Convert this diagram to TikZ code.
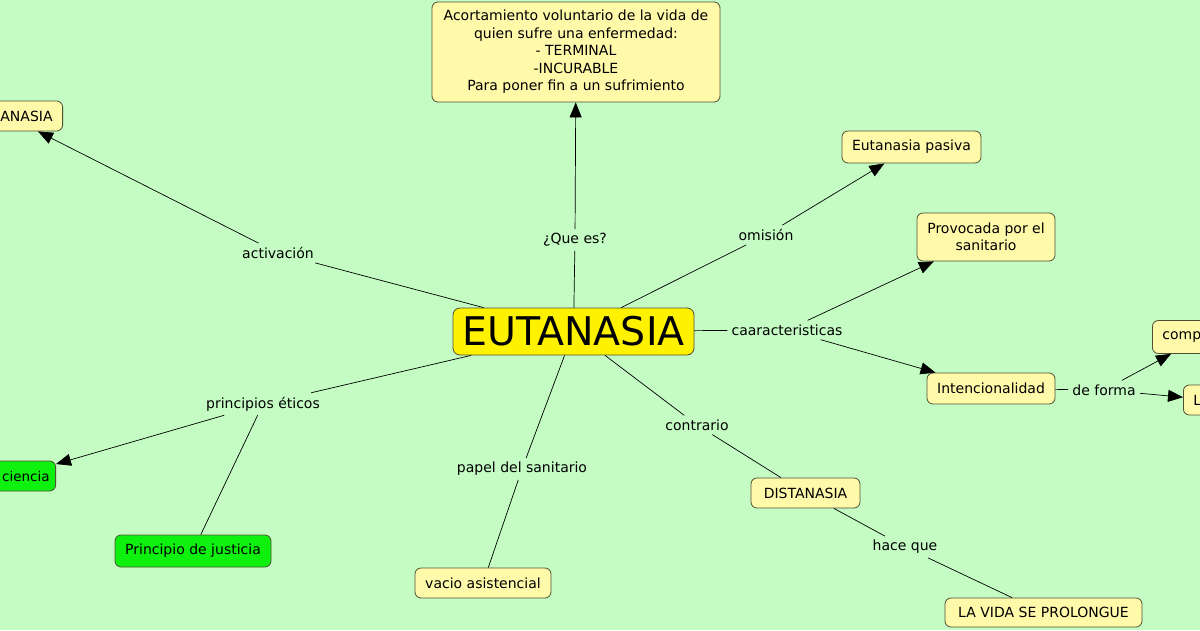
\documentclass[tikz,border=0pt]{standalone}
\usepackage{fontspec}
\setmainfont{DejaVu Sans}
\usetikzlibrary{arrows.meta}
\definecolor{bg}{RGB}{196,252,196}
\definecolor{ybox}{RGB}{255,250,170}
\definecolor{gbox}{RGB}{14,240,14}
\definecolor{edgec}{RGB}{80,80,50}
\begin{document}
\begin{tikzpicture}[x=1pt,y=-1pt,
  box/.style={draw=edgec, fill=ybox, rounded corners=6pt, line width=0.8pt, inner sep=0pt,
    font=\fontsize{14}{17.5}\selectfont, text=black},
  gbx/.style={box, fill=gbox},
  lbl/.style={font=\fontsize{14}{16}\selectfont, inner sep=4pt},
  conn/.style={draw=black, line width=0.7pt},
  arr/.style={conn, -{Triangle[length=15pt,width=12pt]}}]
\useasboundingbox (0,0) rectangle (1200,630);
\fill[bg] (0,0) rectangle (1200,630);
\clip (0,0) rectangle (1200,630);

% boxes
\node[box, minimum width=288, minimum height=100, align=center] (def) at (576,52)
  {Acortamiento voluntario de la vida de\\quien sufre una enfermedad:\\- TERMINAL\\-INCURABLE\\Para poner fin a un sufrimiento};
\node[box, anchor=east, minimum height=30, text width=90, align=right, inner xsep=10] (act) at (63,116) {ANASIA};
\node[box, minimum width=139, minimum height=32] (pas) at (911.5,147) {Eutanasia pasiva};
\node[box, minimum width=138, minimum height=48, align=center] (prov) at (986,237) {Provocada por el\\sanitario};
\node[box, fill=yellow, minimum width=241, minimum height=47, rounded corners=7pt,
  font=\fontsize{39.5}{44}\selectfont] (eut) at (573.5,331.5) {EUTANASIA};
\node[box, anchor=west, minimum height=33, text width=80, align=left, inner xsep=10] (comp) at (1152,337) {comp};
\node[box, minimum width=128, minimum height=31] (int) at (991,388.5) {Intencionalidad};
\node[box, anchor=west, minimum height=30, text width=40, align=left, inner xsep=10] (lbox) at (1183,400) {L};
\node[box, minimum width=109, minimum height=30] (dis) at (805.5,493) {DISTANASIA};
\node[box, minimum width=197, minimum height=29] (vida) at (1043.5,612.5) {LA VIDA SE PROLONGUE};
\node[box, minimum width=136, minimum height=30] (vac) at (483,583) {vacio asistencial};
\node[gbx, minimum width=156, minimum height=32] (jus) at (193,551) {Principio de justicia};
\node[gbx, anchor=east, minimum height=30, text width=70, align=right, inner xsep=6,
  font=\fontsize{13.5}{16}\selectfont] (cie) at (56,476) {ciencia};

% labels
\node[lbl] (lq) at (575,240) {¿Que es?};
\node[lbl] (lact) at (278,253) {activación};
\node[lbl] (lom) at (766,235) {omisión};
\node[lbl] (lcar) at (787,330) {caaracteristicas};
\node[lbl] (lforma) at (1104,390) {de forma};
\node[lbl] (lcon) at (697,425) {contrario};
\node[lbl] (lhace) at (905,547) {hace que};
\node[lbl] (lpap) at (522,469) {papel del sanitario};
\node[lbl] (lpri) at (263,404) {principios éticos};

% connectors
\draw[conn] (eut) -- (lq);
\draw[arr] (lq) -- (def);
\draw[conn] (eut) -- (lact);
\draw[arr] (lact) -- (act);
\draw[conn] (eut) -- (lom);
\draw[arr] (lom) -- (pas);
\draw[conn] (eut) -- (lcar);
\draw[arr] (lcar) -- (prov);
\draw[arr] (lcar) -- (int);
\draw[conn] (int) -- (lforma);
\draw[arr] (lforma) -- (comp);
\draw[arr] (lforma) -- (lbox);
\draw[conn] (eut) -- (lcon);
\draw[conn] (lcon) -- (dis);
\draw[conn] (dis) -- (lhace);
\draw[conn] (lhace) -- (vida);
\draw[conn] (eut) -- (lpap);
\draw[conn] (lpap) -- (vac);
\draw[conn] (eut) -- (lpri);
\draw[arr] (lpri) -- (cie);
\draw[conn] (lpri) -- (jus);
\end{tikzpicture}
\end{document}
